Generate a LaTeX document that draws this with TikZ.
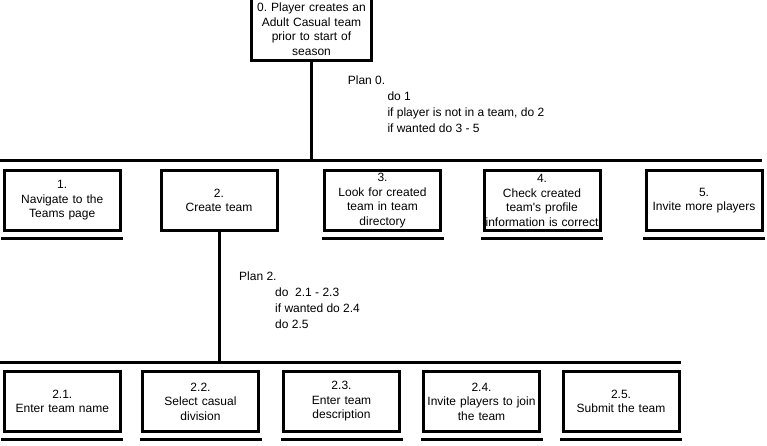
\documentclass[tikz,border=0pt]{standalone}
\usepackage{fontspec}
\setmainfont{Liberation Sans}
\frenchspacing

\begin{document}
\begin{tikzpicture}[x=1pt, y=-1pt, every node/.style={font=\fontsize{12}{14.5}\selectfont}]
  % -----------------------------
  % SETTINGS
  % -----------------------------
  \def\bw{116}   % task box width
  \def\bh{59.5}  % task box height
  \def\ya{200.4} % centre of first row
  \def\yb{401.5} % centre of second row

  % -----------------------------
  % STYLES
  % -----------------------------
  \tikzset{
    task/.style={draw, line width=3pt, minimum width=\bw pt, minimum height=\bh pt,
                 text width=\bw pt, inner sep=0pt, align=center},
    bar/.style={line width=3pt},
    stopbar/.style={line width=3pt, line cap=rect},
    plantxt/.style={anchor=base west, inner sep=0pt},
  }

  \useasboundingbox (0,0) rectangle (767,446);

  % -----------------------------
  % TOP GOAL
  % -----------------------------
  \node[task, minimum width=120pt, text width=120pt, minimum height=64pt] (t0) at (311.5,29)
    {0. Player creates an\\Adult Casual team\\prior to start of\\season};

  % Plan 0
  \node[plantxt] (p0) at (347.7,85) {Plan 0.};
  \foreach \k/\line in {1/{do 1}, 2/{if player is not in a team, do 2}, 3/{if wanted do 3 - 5}} {
    \node[plantxt] (p0l\k) at (387.3,{85+16*\k}) {\line};
  }

  % -----------------------------
  % FIRST LEVEL
  % -----------------------------
  \coordinate (bar0w) at (0,161);
  \coordinate (bar0e) at (762,161);
  \draw[bar] (bar0w) -- (bar0e);
  \draw[bar] (t0.south) -- (t0.south |- bar0w);

  \foreach \x/\n/\txt in {62.2/t1/{1.\\Navigate to the\\Teams page},
                          219/t2/{2.\\Create team},
                          382.5/t3/{3.\\Look for created\\team in team\\directory},
                          542/t4/{4.\\Check created\\team\textquotesingle s profile\\information is correct},
                          704/t5/{5.\\Invite more players}} {
    \node[task] (\n) at (\x,\ya) {\txt};
  }

  % Plan 2
  \node[plantxt] (p2) at (239,280) {Plan 2.};
  \foreach \k/\line in {1/{do\ \ 2.1 - 2.3}, 2/{if wanted do 2.4}, 3/{do 2.5}} {
    \node[plantxt] (p2l\k) at (275,{280+16*\k}) {\line};
  }

  % -----------------------------
  % SECOND LEVEL
  % -----------------------------
  \coordinate (bar1w) at (0,362);
  \coordinate (bar1e) at (681,362);
  \draw[bar] (bar1w) -- (bar1e);
  \draw[bar] (t2.south) -- (t2.south |- bar1w);

  \foreach \x/\n/\txt in {62.3/s1/{2.1.\\Enter team name},
                          200.5/s2/{2.2.\\Select casual\\division},
                          341.5/s3/{2.3.\\Enter team\\description},
                          481.5/s4/{2.4.\\Invite players to join\\the team},
                          621/s5/{2.5.\\Submit the team}} {
    \node[task] (\n) at (\x,\yb) {\txt};
  }

  % lines under tasks that are not broken down further
  \foreach \n in {t1,t3,t4,t5,s1,s2,s3,s4,s5} {
    \draw[stopbar] ([yshift=-6.5pt]\n.south west) -- ([yshift=-6.5pt]\n.south east);
  }
\end{tikzpicture}
\end{document}
